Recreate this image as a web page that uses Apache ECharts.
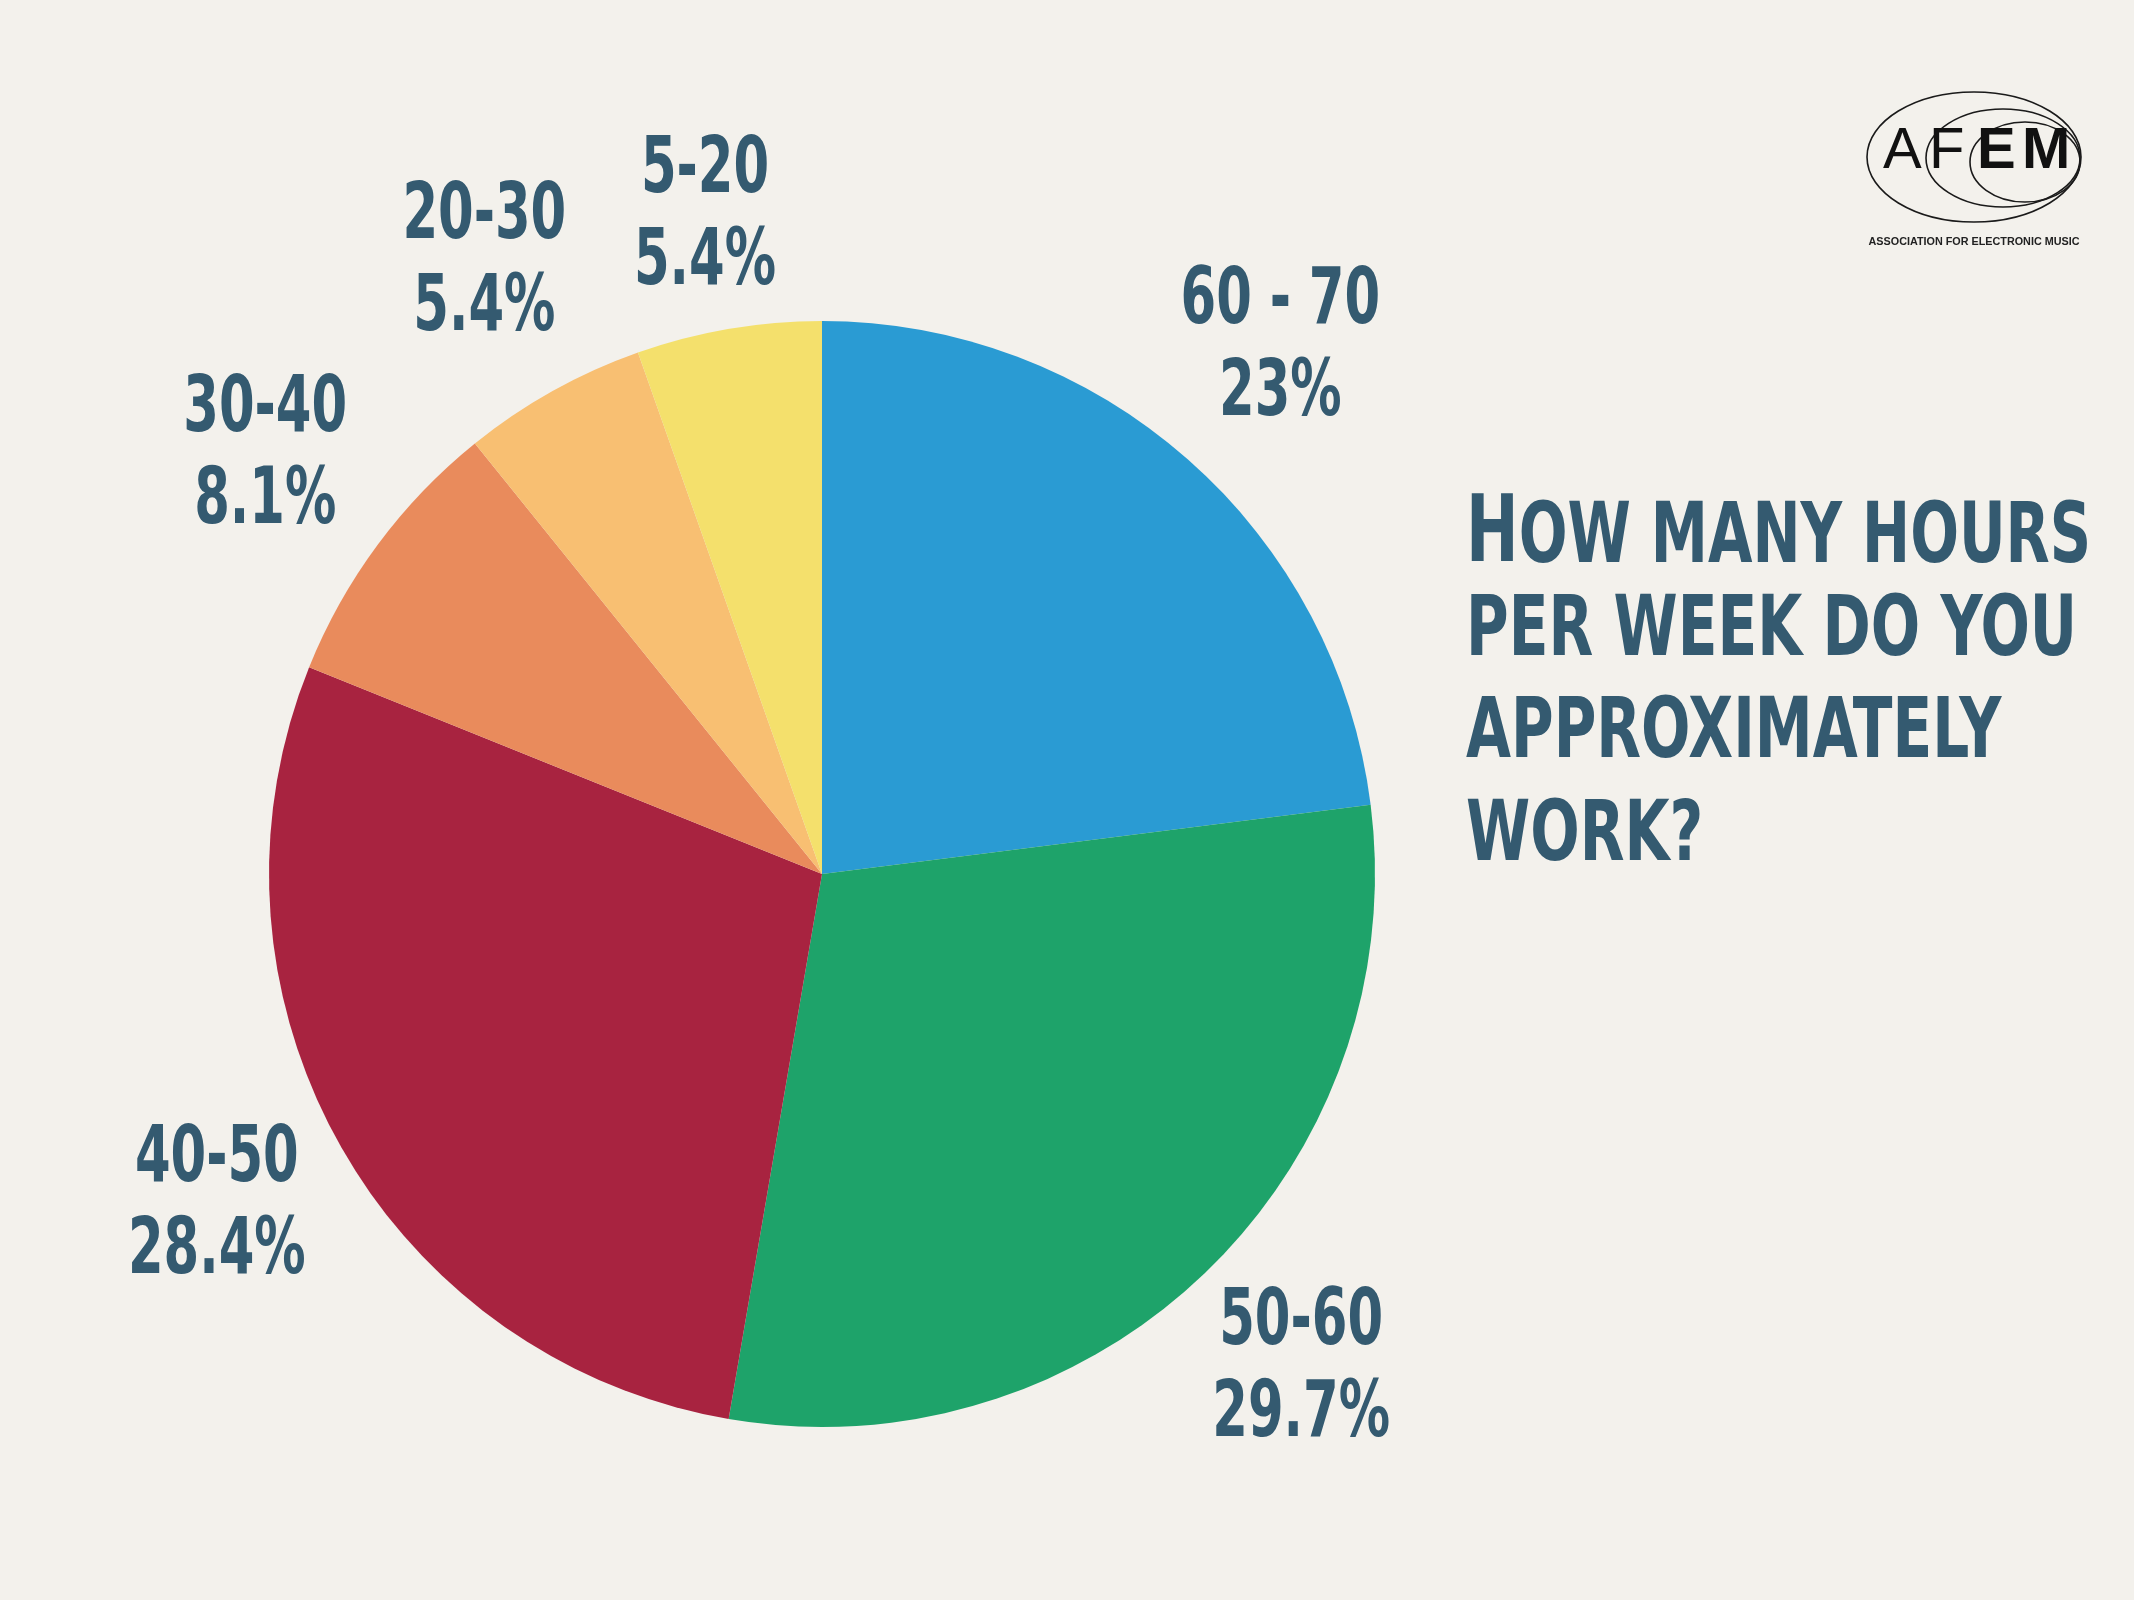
<!DOCTYPE html>
<html>
<head>
<meta charset="utf-8">
<script src="https://cdn.jsdelivr.net/npm/echarts@6/dist/echarts.min.js"></script>
<style>
html,body{margin:0;padding:0;background:#f3f1ec;}
#c{width:2134px;height:1600px;}
</style>
</head>
<body>
<div id="c"></div>
<script>
// Data
const categories = ['60 - 70', '50-60', '40-50', '30-40', '20-30', '5-20'];
const shares = [23, 29.7, 28.4, 8.1, 5.4, 5.4];
const colors = ['#2a9bd3', '#1ea36a', '#a82340', '#e98b5c', '#f8bf72', '#f4e06c'];
const titleLines = ['OW MANY HOURS', 'PER WEEK DO YOU', 'APPROXIMATELY', 'WORK?'];

const textColor = '#345a70';
const condFont = '"Liberation Sans Narrow", "DejaVu Sans Condensed", sans-serif';

const pieData = categories.map((c, i) => ({ name: c, value: shares[i], itemStyle: { color: colors[i] } }));
const labelData = categories.map((c, i) => ({ name: c, value: shares[i] }));

const chart = echarts.init(document.getElementById('c'));

const titleX = 1466;
const titleBaselines = [562, 663, 765, 868];
const titleSize = 84;
const titleScale = 0.77;

const graphics = [];
titleLines.forEach((t, i) => {
  const txt = i === 0 ? '{big|H}{n|' + t + '}' : t;
  graphics.push({
    type: 'text', x: titleX, y: titleBaselines[i] - 0.35 * titleSize,
    scaleX: i === 0 ? 0.76 : titleScale, silent: true,
    style: {
      text: txt, fill: textColor,
      font: 'bold ' + titleSize + 'px ' + condFont,
      verticalAlign: 'middle', align: 'left',
      rich: {
        big: { fontSize: 92, fontWeight: 'bold', fontFamily: condFont, fill: textColor, verticalAlign: 'bottom', lineHeight: 100 },
        n: { fontSize: titleSize, fontWeight: 'bold', fontFamily: condFont, fill: textColor, verticalAlign: 'bottom', lineHeight: 100 }
      }
    }
  });
});

// Logo
const logo = { type: 'group', silent: true, children: [
  { type: 'ellipse', shape: { cx: 1974, cy: 157, rx: 107, ry: 65 }, style: { fill: 'none', stroke: '#1a1a1a', lineWidth: 1.6 } },
  { type: 'ellipse', shape: { cx: 2003, cy: 158, rx: 77, ry: 49 }, style: { fill: 'none', stroke: '#1a1a1a', lineWidth: 1.6 } },
  { type: 'ellipse', shape: { cx: 2025, cy: 162, rx: 55, ry: 40 }, style: { fill: 'none', stroke: '#1a1a1a', lineWidth: 1.6 } },
  { type: 'text', x: 1883, y: 181, style: { text: 'A', font: '58px "Liberation Sans", sans-serif', fill: '#111', verticalAlign: 'bottom' } },
  { type: 'text', x: 1929, y: 181, style: { text: 'F', font: '58px "Liberation Sans", sans-serif', fill: '#111', verticalAlign: 'bottom' } },
  { type: 'text', x: 1977, y: 181, style: { text: 'E', font: 'bold 58px "Liberation Sans", sans-serif', fill: '#111', verticalAlign: 'bottom' } },
  { type: 'text', x: 2022, y: 181, style: { text: 'M', font: 'bold 58px "Liberation Sans", sans-serif', fill: '#111', verticalAlign: 'bottom' } },
  { type: 'text', x: 1974, y: 242, style: { text: 'ASSOCIATION FOR ELECTRONIC MUSIC', font: 'bold 10.8px "Liberation Sans", sans-serif', fill: '#222', align: 'center', verticalAlign: 'middle' } }
]};
graphics.push(logo);

chart.setOption({
  backgroundColor: '#f3f1ec',
  animation: false,
  graphic: graphics,
  series: [
    {
      type: 'pie',
      center: [822, 874],
      radius: [0, 553],
      startAngle: 90,
      clockwise: true,
      silent: true,
      label: { show: false },
      labelLine: { show: false },
      itemStyle: { borderWidth: 0 },
      emphasis: { disabled: true },
      data: pieData
    },
    {
      type: 'pie',
      center: [822, 874],
      radius: [640, 740],
      startAngle: 90,
      clockwise: true,
      silent: true,
      itemStyle: { color: 'rgba(0,0,0,0)', borderWidth: 0 },
      emphasis: { disabled: true },
      labelLine: { show: false },
      labelLayout: function (p) { return p.dataIndex === categories.length - 1 ? { dy: 27 } : { dy: -5 }; },
      label: {
        show: true,
        position: 'inside',
        formatter: '{b}\n{c}%',
        color: textColor,
        fontFamily: condFont,
        fontWeight: 'bold',
        fontSize: 78,
        lineHeight: 92,
        align: 'center'
      },
      data: labelData
    }
  ]
});

// condense the slice labels horizontally (narrow display face is not installed)
const labelSeries = chart.getModel().getSeriesByIndex(1);
labelSeries.getData().eachItemGraphicEl(function (el) {
  const t = el.getTextContent && el.getTextContent();
  if (t) { t.scaleX = 0.73; t.markRedraw(); }
});
chart.getZr().refreshImmediately();
</script>
</body>
</html>
